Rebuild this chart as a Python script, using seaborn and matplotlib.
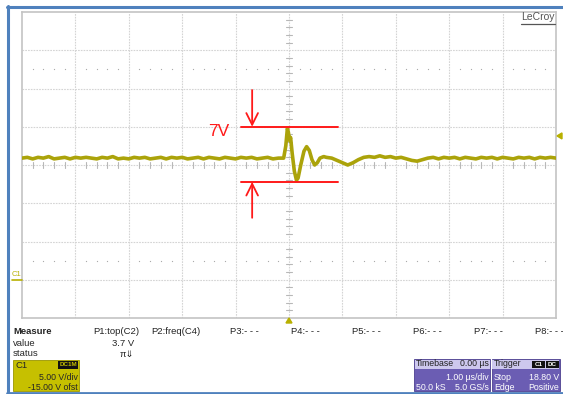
import numpy as np
import matplotlib
matplotlib.use("Agg")
import matplotlib.pyplot as plt
import seaborn as sns
import pandas as pd
from matplotlib.patches import Rectangle, Polygon
from matplotlib.lines import Line2D

# ---------------- data ----------------
time_us = [-5.0, -4.9, -4.8, -4.7, -4.6, -4.5, -4.4, -4.3, -4.2, -4.1,
           -4.0, -3.9, -3.8, -3.7, -3.6, -3.5, -3.4, -3.3, -3.2, -3.1,
           -3.0, -2.9, -2.8, -2.7, -2.6, -2.5, -2.4, -2.3, -2.2, -2.1,
           -2.0, -1.9, -1.8, -1.7, -1.6, -1.5, -1.4, -1.3, -1.2, -1.1,
           -1.0, -0.9, -0.8, -0.7, -0.6, -0.5, -0.4, -0.3, -0.2,
           -0.10, -0.06, -0.03, -0.01, 0.01, 0.03, 0.06, 0.10, 0.14, 0.17,
           0.22, 0.28, 0.33, 0.38, 0.43, 0.48, 0.53, 0.58, 0.65,
           0.7, 0.8, 0.9, 1.0, 1.1, 1.2, 1.3, 1.4, 1.5, 1.6,
           1.7, 1.8, 1.9, 2.0, 2.1, 2.2, 2.3, 2.4, 2.5, 2.6,
           2.7, 2.8, 2.9, 3.0, 3.1, 3.2, 3.3, 3.4, 3.5, 3.6,
           3.7, 3.8, 3.9, 4.0, 4.1, 4.2, 4.3, 4.4, 4.5, 4.6,
           4.7, 4.8, 4.9, 5.0]
volts = [15.9, 16.0, 15.8, 16.0, 15.9, 16.1, 15.8, 15.9, 16.0, 15.8,
         16.0, 15.9, 16.0, 15.9, 15.8, 16.0, 15.9, 16.1, 15.8, 15.9,
         15.8, 16.0, 15.9, 16.0, 15.8, 15.9, 16.0, 15.8, 16.0, 15.9,
         16.0, 15.8, 15.9, 16.0, 15.8, 16.0, 15.9, 15.8, 16.0, 15.9,
         15.8, 16.0, 15.9, 16.0, 15.8, 15.9, 16.0, 15.8, 15.9,
         15.9, 17.5, 19.8, 19.2, 18.2, 18.6, 16.5, 14.2, 13.0, 13.3,
         15.0, 16.8, 17.4, 16.9, 15.7, 15.0, 15.3, 15.9, 16.1,
         16.0, 15.9, 15.6, 15.3, 15.0, 15.3, 15.7, 16.0, 16.1, 16.0,
         16.2, 16.0, 16.1, 15.9, 16.0, 15.8, 15.6, 15.5, 15.7, 15.9,
         16.0, 15.8, 16.0, 15.9, 16.0, 15.8, 16.0, 15.9, 15.8, 16.0,
         15.9, 16.0, 15.8, 16.0, 15.9, 15.8, 16.0, 15.9, 16.0, 15.8,
         16.0, 15.9, 16.0, 15.9]

# annotation levels (V) and label
top_level = 20.0
bottom_level = 12.8
annot_x = [-0.9, 0.92]
arrow_x = -0.69
arrow_top_start = 24.8
arrow_bottom_start = 8.1
annot_label = "7V"

meas_headers = ["P1:top(C2)", "P2:freq(C4)", "P3:- - -", "P4:- - -",
                "P5:- - -", "P6:- - -", "P7:- - -", "P8:- - -"]
meas_value = "3.7 V"
trigger_level = 18.8
ground_level = 0.0

# ---------------- figure ----------------
sns.set_theme(style="white")
plt.rcParams['font.family'] = ['Liberation Sans', 'DejaVu Sans']

W, H = 563, 394
fig = plt.figure(figsize=(W / 100, H / 100), dpi=100)
fig.patch.set_facecolor("white")


def fx(x):
    return x / W


def fy(y):
    return 1 - y / H


L, T, R, B = 22, 12, 556, 318
ax = fig.add_axes([fx(L), fy(B), (R - L) / W, (B - T) / H])
ax.set_xlim(-5, 5)
ax.set_ylim(-5, 35)
ax.set_xticks([])
ax.set_yticks([])
for s in ax.spines.values():
    s.set_color("#c4c4c4")
    s.set_linewidth(1.2)

gcol = "#d4d4d4"
for xv in range(-4, 5):
    ax.axvline(xv, color=gcol, lw=0.8, ls=(0, (1.5, 1)), zorder=1)
for yv in range(0, 35, 5):
    ax.axhline(yv, color=gcol, lw=0.8, ls=(0, (1.5, 1)), zorder=1)

# center ticks
tcol = "#b8b8b8"
for yv in range(-5, 36):
    if yv % 5:
        ax.plot([-0.06, 0.06], [yv, yv], color=tcol, lw=0.8, zorder=1)
for k in range(-25, 26):
    if k % 5:
        ax.plot([k * 0.2, k * 0.2], [14.6, 15.4], color=tcol, lw=0.8, zorder=1)

# dotted minor rows
dx = [k * 0.2 for k in range(-24, 25) if k % 5]
for yv in (27.5, 2.5):
    ax.scatter(dx, [yv] * len(dx), s=0.8, color="#a8a8a8", zorder=1, linewidths=0)

# trace
df = pd.DataFrame({"t": time_us, "v": volts})
sns.lineplot(data=df, x="t", y="v", ax=ax, color="#aba30a", lw=2.6,
             sort=False, zorder=3, legend=False)
ax.set_xlabel("")
ax.set_ylabel("")

# red annotation
red = "#ff1a1a"
ax.plot(annot_x, [top_level, top_level], color=red, lw=1.4, zorder=4)
ax.plot(annot_x, [bottom_level, bottom_level], color=red, lw=1.4, zorder=4)
ap = dict(arrowstyle="->,head_length=0.7,head_width=0.35", color=red, lw=1.3,
          shrinkA=0, shrinkB=0)
ax.annotate("", xy=(arrow_x, top_level), xytext=(arrow_x, arrow_top_start),
            arrowprops=ap, zorder=4)
ax.annotate("", xy=(arrow_x, bottom_level), xytext=(arrow_x, arrow_bottom_start),
            arrowprops=ap, zorder=4)
ax.text(-1.12, 19.4, annot_label, color=red, fontsize=12.5,
        ha="right", va="center")

fig.text(fx(555), fy(12.5), "LeCroy", ha="right", va="top",
         fontsize=7.5, color="#555555")
fig.add_artist(Line2D([fx(521), fx(555)], [fy(23.5), fy(23.5)], color="#555555", lw=0.9))

# markers: trigger position, trigger level, ground
olive = "#b8b000"
fig.add_artist(Polygon([[fx(286), fy(323)], [fx(292), fy(323)], [fx(289), fy(318)]],
                       closed=True, color=olive, transform=fig.transFigure))
ty = ax.transData.transform((0, trigger_level))[1]
tyf = fig.transFigure.inverted().transform((0, ty))[1]
fig.add_artist(Polygon([[fx(557), tyf], [fx(562), tyf + 3 / H], [fx(562), tyf - 3 / H]],
                       closed=True, color=olive, transform=fig.transFigure))
gy = fig.transFigure.inverted().transform(ax.transData.transform((0, ground_level)))[1]
fig.add_artist(Line2D([fx(12), fx(22)], [gy, gy], color=olive, lw=1.2))
fig.text(fx(12), gy + 2 / H, "C1", fontsize=5.5, color=olive, va="bottom", ha="left")

# ---------------- bottom panel ----------------
fs = 6.8
fb = 6.3
fig.text(fx(13), fy(332), "Measure", fontsize=fs, weight="bold", va="center")
fig.text(fx(13), fy(343), "value", fontsize=fs, va="center")
fig.text(fx(13), fy(354), "status", fontsize=fs, va="center")
hx = [93, 151, 230, 291, 352, 413, 474, 535]
for x, t in zip(hx, meas_headers):
    fig.text(fx(x), fy(332), t, fontsize=fs, va="center", color="#222222")
fig.text(fx(134), fy(343), meas_value, fontsize=fs, va="center", ha="right")
fig.text(fx(134), fy(354), "\u03c0\u21d3", fontsize=fs, va="center", ha="right")


def box(x0, y0, x1, y1, color, **kw):
    fig.add_artist(Rectangle((fx(x0), fy(y1)), (x1 - x0) / W, (y1 - y0) / H,
                             transform=fig.transFigure, facecolor=color,
                             edgecolor=kw.get("ec", "none"), lw=kw.get("lw", 0)))


# C1 box
box(13, 360, 79, 391, "#c6c000", ec="#9a9500", lw=0.6)
fig.text(fx(16), fy(366), "C1", fontsize=fs, va="center")
box(58, 361, 78, 369, "#111111")
fig.text(fx(68), fy(365), "DC1M", fontsize=4.5, va="center", ha="center",
         color="#c6c000", weight="bold")
fig.text(fx(78), fy(378), "5.00 V/div", fontsize=fb, va="center", ha="right")
fig.text(fx(78), fy(388), "-15.00 V ofst", fontsize=fb, va="center", ha="right")

# Timebase box
purple = "#6b5db3"
lav = "#cdc8ee"
box(414, 359, 490, 391, purple, ec="#4c4090", lw=0.6)
box(414.5, 359.5, 489.5, 369, lav)
fig.text(fx(416), fy(364), "Timebase", fontsize=fb, va="center", color="#222222")
fig.text(fx(489), fy(364), "0.00 \u00b5s", fontsize=fb, va="center", ha="right", color="#222222")
fig.text(fx(489), fy(378), "1.00 \u00b5s/div", fontsize=fb, va="center", ha="right", color="white")
fig.text(fx(416), fy(388), "50.0 kS", fontsize=fb, va="center", color="white")
fig.text(fx(489), fy(388), "5.0 GS/s", fontsize=fb, va="center", ha="right", color="white")

# Trigger box
box(492, 359, 560, 391, purple, ec="#4c4090", lw=0.6)
box(492.5, 359.5, 559.5, 369, lav)
fig.text(fx(494), fy(364), "Trigger", fontsize=fb, va="center", color="#222222")
box(532, 360.5, 545, 368, "#111111")
box(546, 360.5, 559, 368, "#111111")
fig.text(fx(538.5), fy(364), "C1", fontsize=4.5, va="center", ha="center", color="white", weight="bold")
fig.text(fx(552.5), fy(364), "DC", fontsize=4.5, va="center", ha="center", color="white", weight="bold")
fig.text(fx(494), fy(378), "Stop", fontsize=fb, va="center", color="white")
fig.text(fx(559), fy(378), f"{trigger_level:.2f} V", fontsize=fb, va="center", ha="right", color="white")
fig.text(fx(494), fy(388), "Edge", fontsize=fb, va="center", color="white")
fig.text(fx(559), fy(388), "Positive", fontsize=fb, va="center", ha="right", color="white")

# blue frame
blue = "#4f81bd"
fig.add_artist(Line2D([fx(8), fx(8)], [fy(5.5), fy(394)], color=blue, lw=2.2))
fig.add_artist(Line2D([fx(7), fx(563)], [fy(6.5), fy(6.5)], color=blue, lw=2.2))
fig.add_artist(Line2D([fx(7), fx(563)], [fy(392.5), fy(392.5)], color=blue, lw=2.0))

fig.savefig("out.png", dpi=100)
